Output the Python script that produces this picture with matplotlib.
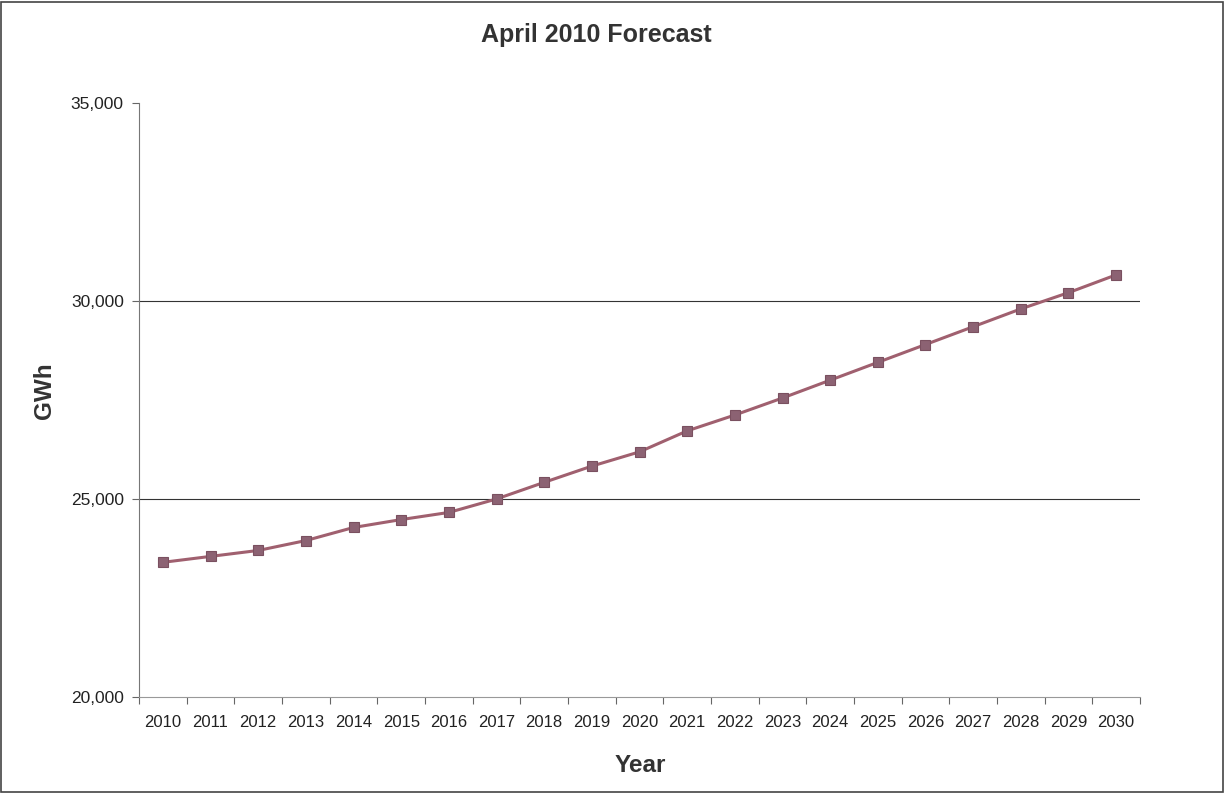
import matplotlib.pyplot as plt
from matplotlib.ticker import FuncFormatter, MultipleLocator
from matplotlib.patches import Rectangle

plt.rcParams['font.family'] = ['Liberation Sans', 'DejaVu Sans']

# data
years = [2010, 2011, 2012, 2013, 2014, 2015, 2016, 2017, 2018, 2019, 2020,
         2021, 2022, 2023, 2024, 2025, 2026, 2027, 2028, 2029, 2030]
gwh = [23400, 23550, 23700, 23950, 24280, 24480, 24660, 25000, 25420, 25830,
       26190, 26720, 27120, 27550, 28000, 28450, 28900, 29350, 29800, 30210,
       30660]

fig = plt.figure(figsize=(12.25, 7.94), dpi=100)
ax = fig.add_axes([0.1135, 0.1222, 0.8171, 0.7481])

x = list(range(len(years)))
ax.plot(x, gwh, color='#a0606f', lw=2.2, marker='s', ms=7,
        mfc='#8c6273', mec='#7a5060', mew=0.8, zorder=3)

ax.set_xlim(-0.5, len(years) - 0.5)
ax.set_ylim(20000, 35000)

# category axis: ticks between categories, labels in the middle
ax.set_xticks([i + 0.5 for i in range(-1, len(years))])
ax.set_xticklabels([])
ax.set_xticks(x, minor=True)
ax.set_xticklabels([str(y) for y in years], minor=True, fontsize=12, color='#222222')
ax.tick_params(axis='x', which='minor', length=0, pad=13)
ax.tick_params(axis='x', which='major', length=5, color='#666666', direction='out')

ax.yaxis.set_major_locator(MultipleLocator(5000))
ax.yaxis.set_major_formatter(FuncFormatter(lambda v, p: f'{int(v):,}'))
ax.tick_params(axis='y', length=5, color='#666666', labelsize=12.5, labelcolor='#222222', pad=6)

for v in [25000, 30000]:
    ax.axhline(v, color='#333333', lw=0.8, zorder=1)

for s in ['top', 'right']:
    ax.spines[s].set_visible(False)
ax.spines['left'].set_color('#777777')
ax.spines['bottom'].set_color('#999999')

fig.text(0.4865, 0.956, 'April 2010 Forecast', ha='center', va='center',
         fontsize=18, fontweight='bold', color='#333333')
fig.text(0.5224, 0.036, 'Year', ha='center', va='center',
         fontsize=17.5, fontweight='bold', color='#333333')
fig.text(0.036, 0.5075, 'GWh', ha='center', va='center', rotation=90,
         fontsize=17.5, fontweight='bold', color='#333333')

# scanned page frame
fig.patches.append(Rectangle((0.001, 0.002), 0.997, 0.995, transform=fig.transFigure,
                             fill=False, ec='#444444', lw=1.2))

fig.savefig('out.png', dpi=100, facecolor='white')
